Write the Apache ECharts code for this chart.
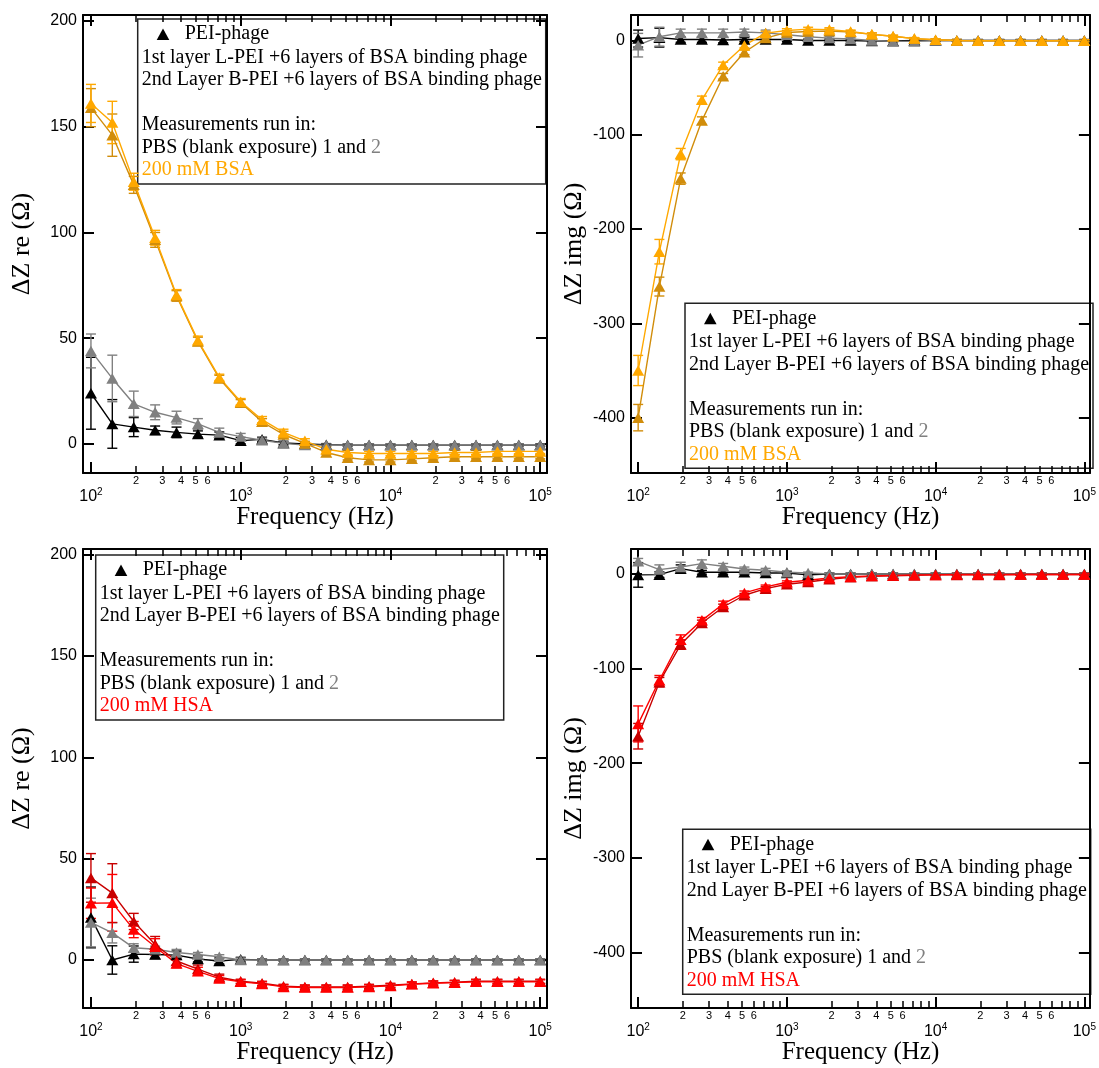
<!DOCTYPE html>
<html>
<head>
<meta charset="utf-8">
<script src="https://cdn.jsdelivr.net/npm/echarts@6/dist/echarts.min.js"></script>
<style>
  html, body { margin: 0; padding: 0; background: #fff; }
  #chart { width: 1099px; height: 1068px; }
</style>
</head>
<body>
<div id="chart"></div>
<script>
// Measurement frequencies (Hz), 7 points per decade
const freqHz = [100, 138.9, 193.1, 268.3, 372.8, 517.9, 719.7, 1000, 1389, 1931, 2683,
  3728, 5179, 7197, 10000, 13895, 19307, 26827, 37276, 51795, 71969, 100000];

// Axis tick values
const majorFreqTicks = [100, 1000, 10000, 100000];
const minorFreqTicks = [200, 300, 400, 500, 600, 700, 800, 900, 2000, 3000, 4000, 5000, 6000, 7000, 8000, 9000,
  20000, 30000, 40000, 50000, 60000, 70000, 80000, 90000];
const minorFreqLabels = [200, 300, 400, 500, 600, 2000, 3000, 4000, 5000, 6000, 20000, 30000, 40000, 50000, 60000];
const reTicks = [0, 50, 100, 150, 200];
const imgTicks = [-400, -300, -200, -100, 0];

// ---- BSA, real part ----
const reBsaPbs1 = [24, 9.5, 8, 6.5, 5.5, 4.7, 4.2, 1.6, 2.2, 0.5, 0, -0.3, -0.5, -0.5, -0.5, -0.5, -0.5, -0.5, -0.5, -0.5, -0.5, -0.5];
const reBsaPbs1Err = [17, 11.5, 4.5, 2, 2.5, 1.5, 1.5, 1.5, 1, 0.8, 0.5, 0.5, 0.5, 0.5, 0.5, 0.5, 0.5, 0.5, 0.5, 0.5, 0.5, 0.5];
const reBsaPbs2 = [44, 31, 19, 15, 12.5, 9.5, 5.5, 3.5, 1.8, 0.3, -0.5, -0.5, -0.5, -0.5, -0.5, -0.5, -0.5, -0.5, -0.5, -0.5, -0.5, -0.5];
const reBsaPbs2Err = [8, 11, 6, 3.5, 3, 2.5, 2, 1.5, 1, 1, 0.5, 0.5, 0.5, 0.5, 0.5, 0.5, 0.5, 0.5, 0.5, 0.5, 0.5, 0.5];
const reBsaLayer1 = [159, 146, 122.5, 96.5, 70, 48.5, 31, 19.5, 10.5, 4.5, 0.3, -4, -6.5, -7.5, -7.5, -7, -6.5, -6, -6, -6, -6, -6];
const reBsaLayer1Err = [9, 10, 4, 3.5, 2.5, 2, 1.5, 1.5, 1.5, 1.5, 1, 1, 1, 1, 1, 1, 1, 1, 1, 1, 1, 1];
const reBsaLayer2 = [161, 152, 124, 97.5, 70.5, 49, 31.5, 20, 11.5, 5.5, 1.5, -2.5, -4, -4.5, -4.5, -4.5, -4.5, -4, -4, -3.5, -3.5, -3.5];
const reBsaLayer2Err = [9, 10, 4, 3.5, 2.5, 2, 1.5, 1.5, 1.5, 1.5, 1, 1, 1, 1, 1, 1, 1, 1, 1, 1, 1, 1];

// ---- BSA, imaginary part ----
const imBsaPbs1 = [2, 3, 1, 1, 0.5, 1, 1, 1, 0, 0, 0, -0.5, -0.5, 0, 0, 0, 0, 0, 0, 0, 0, 0];
const imBsaPbs1Err = [9, 10, 3, 3, 3, 2, 2, 2, 1.5, 1.5, 1, 1, 1, 1, 1, 1, 1, 1, 1, 1, 1, 1];
const imBsaPbs2 = [-5, 4, 8, 8, 8, 9, 8, 6, 4, 2.5, 1.5, 0, -1, -1, 0, 0, 0, 0, 0, 0, 0, 0];
const imBsaPbs2Err = [12.5, 10, 4, 4, 4, 3, 3, 2, 2, 1.5, 1.5, 1, 1, 1, 1, 1, 1, 1, 1, 1, 1, 1];
const imBsaLayer1 = [-400, -261, -146.5, -85, -38, -12.5, 2.5, 8.5, 9.5, 10, 9, 6.5, 4.5, 2, 0.7, 0, -0.3, -0.3, -0.3, -0.3, -0.3, -0.3];
const imBsaLayer1Err = [14, 10, 6, 4, 3, 2.5, 2, 2, 2, 2, 1.5, 1.5, 1, 1, 1, 1, 1, 1, 1, 1, 1, 1];
const imBsaLayer2 = [-350, -224, -120.5, -63, -26, -5.3, 7.8, 10.5, 12, 11.5, 9.5, 6.5, 4.5, 2, 0.7, 0, -0.3, -0.3, -0.3, -0.3, -0.3, -0.3];
const imBsaLayer2Err = [16, 13, 6, 4, 3, 2.5, 2, 2, 2, 2, 1.5, 1.5, 1, 1, 1, 1, 1, 1, 1, 1, 1, 1];

// ---- HSA, real part ----
const reHsaPbs1 = [21, 0, 2.9, 2.7, 2.4, 0.5, -0.5, 0.3, 0, 0, 0, 0, 0, 0, 0, 0, 0, 0, 0, 0, 0, 0];
const reHsaPbs1Err = [15, 7, 4, 2, 2, 1.5, 1.5, 1, 0.5, 0.5, 0.5, 0.5, 0.5, 0.5, 0.5, 0.5, 0.5, 0.5, 0.5, 0.5, 0.5, 0.5];
const reHsaPbs2 = [18.5, 13.4, 6, 5.3, 3.7, 2.7, 1.6, 0, 0, 0, 0, 0, 0, 0, 0, 0, 0, 0, 0, 0, 0, 0];
const reHsaPbs2Err = [12, 5, 2, 1.5, 1.5, 1, 1, 1, 0.5, 0.5, 0.5, 0.5, 0.5, 0.5, 0.5, 0.5, 0.5, 0.5, 0.5, 0.5, 0.5, 0.5];
const reHsaLayer1 = [40.5, 33, 19, 7.6, -0.5, -4.5, -8.5, -10.5, -11.5, -13, -13.3, -13.3, -13.3, -13, -12.5, -11.8, -11.3, -11, -10.5, -10.5, -10.5, -10.5];
const reHsaLayer1Err = [12, 14.5, 4, 4, 2, 2, 1.5, 1, 1, 1, 1, 1, 1, 1, 1, 1, 1, 1, 1, 1, 1, 1];
const reHsaLayer2 = [28, 28.2, 15, 6.5, -1.8, -5.6, -9.2, -10.8, -11.8, -13.3, -13.6, -13.6, -13.6, -13.3, -12.8, -12, -11.5, -11.2, -10.8, -10.8, -10.8, -10.8];
const reHsaLayer2Err = [7.5, 14, 4, 4, 2, 2, 1.5, 1, 1, 1, 1, 1, 1, 1, 1, 1, 1, 1, 1, 1, 1, 1];

// ---- HSA, imaginary part ----
const imHsaPbs1 = [-1, -0.7, 5.6, 1.8, 1.8, 1.8, 1, 1, -1, 0, 0, 0, 0, 0, 0, 0, 0, 0, 0, 0, 0, 0];
const imHsaPbs1Err = [13, 3, 4, 2, 2, 2, 1.5, 1.5, 1, 1, 1, 1, 1, 1, 1, 1, 1, 1, 1, 1, 1, 1];
const imHsaPbs2 = [13.4, 4.6, 7.4, 10.9, 8.1, 5.3, 3.9, 1.8, 1, 0, 0, 0, 0, 0, 0, 0, 0, 0, 0, 0, 0, 0];
const imHsaPbs2Err = [3, 5, 5, 4, 3, 2, 2, 1.5, 1, 1, 1, 1, 1, 1, 1, 1, 1, 1, 1, 1, 1, 1];
const imHsaLayer1 = [-171.5, -114.4, -74.6, -51.8, -34.9, -22.5, -15.5, -10.9, -8.5, -5.6, -3.5, -2.5, -2, -1.5, -1, -1, -1, -1, -0.5, -0.5, -0.5, -0.5];
const imHsaLayer1Err = [13.5, 5, 5, 3, 3, 2, 2, 1.5, 1.5, 1, 1, 1, 1, 1, 1, 1, 1, 1, 1, 1, 1, 1];
const imHsaLayer2 = [-158.5, -112.3, -69.4, -49, -31.7, -20, -13.7, -8.8, -6.7, -4.2, -3, -2, -1.5, -1, -1, -0.5, -0.5, -0.5, -0.5, -0.5, -0.5, -0.5];
const imHsaLayer2Err = [19, 5, 5, 3, 3, 2, 2, 1.5, 1.5, 1, 1, 1, 1, 1, 1, 1, 1, 1, 1, 1, 1, 1];

const SANS = 'Liberation Sans';
const SERIF = 'Liberation Serif';
const C_PBS1 = '#000000';
const C_PBS2 = '#808080';
const C_BSA1 = '#D18D0B';
const C_BSA2 = '#FFA800';
const C_HSA1 = '#C80000';
const C_HSA2 = '#FF0000';

const panels = [
  { grid: { left: 83, top: 15, width: 464, height: 458 }, xMin: 88.5, xMax: 111000,
    yMin: -13.7, yMax: 202.8, yTicks: reTicks, yName: 'ΔZ re (Ω)', yNameGap: 48,
    series: [[reBsaPbs1, reBsaPbs1Err, C_PBS1], [reBsaPbs2, reBsaPbs2Err, C_PBS2],
             [reBsaLayer1, reBsaLayer1Err, C_BSA1], [reBsaLayer2, reBsaLayer2Err, C_BSA2]] },
  { grid: { left: 631, top: 15, width: 462, height: 458 }, xMin: 89.5, xMax: 109000,
    yMin: -458.7, yMax: 27, yTicks: imgTicks, yName: 'ΔZ img (Ω)', yNameGap: 44,
    series: [[imBsaPbs1, imBsaPbs1Err, C_PBS1], [imBsaPbs2, imBsaPbs2Err, C_PBS2],
             [imBsaLayer1, imBsaLayer1Err, C_BSA1], [imBsaLayer2, imBsaLayer2Err, C_BSA2]] },
  { grid: { left: 83, top: 549, width: 464, height: 459 }, xMin: 88.5, xMax: 111000,
    yMin: -23.7, yMax: 202.8, yTicks: reTicks, yName: 'ΔZ re (Ω)', yNameGap: 48,
    series: [[reHsaPbs1, reHsaPbs1Err, C_PBS1], [reHsaPbs2, reHsaPbs2Err, C_PBS2],
             [reHsaLayer1, reHsaLayer1Err, C_HSA1], [reHsaLayer2, reHsaLayer2Err, C_HSA2]] },
  { grid: { left: 631, top: 549, width: 462, height: 459 }, xMin: 89.5, xMax: 109000,
    yMin: -458.8, yMax: 26.4, yTicks: imgTicks, yName: 'ΔZ img (Ω)', yNameGap: 44,
    series: [[imHsaPbs1, imHsaPbs1Err, C_PBS1], [imHsaPbs2, imHsaPbs2Err, C_PBS2],
             [imHsaLayer1, imHsaLayer1Err, C_HSA1], [imHsaLayer2, imHsaLayer2Err, C_HSA2]] }
];

function decadeExp(v) { return Math.round(Math.log10(v)); }
function leadDigit(v) { return String(Math.round(v / Math.pow(10, Math.floor(Math.log10(v) + 1e-9)))); }

const grids = [], xAxes = [], yAxes = [], seriesList = [];

panels.forEach((p, gi) => {
  grids.push(Object.assign({ containLabel: false }, p.grid));
  const base = {
    type: 'log', gridIndex: gi, min: p.xMin, max: p.xMax,
    splitLine: { show: false }, minorTick: { show: false }, minorSplitLine: { show: false }
  };
  const lineOn = { show: true, onZero: false, lineStyle: { color: '#000', width: 2 } };
  const lineOff = { show: false, onZero: false };
  // bottom: decade ticks + 10^n labels
  xAxes.push(Object.assign({}, base, {
    position: 'bottom', axisLine: lineOn,
    name: 'Frequency (Hz)', nameLocation: 'middle', nameGap: 29,
    nameTextStyle: { fontFamily: SERIF, fontSize: 25, color: '#000' },
    axisTick: { show: true, inside: true, length: 11, lineStyle: { color: '#000', width: 2 }, customValues: majorFreqTicks },
    axisLabel: {
      show: true, customValues: majorFreqTicks, margin: 14, color: '#000',
      formatter: v => '{b|10}{s|' + decadeExp(v) + '}',
      rich: {
        b: { fontFamily: SANS, fontSize: 16, color: '#000' },
        s: { fontFamily: SANS, fontSize: 10, color: '#000', padding: [0, 0, 9, 0] }
      }
    }
  }));
  // bottom: intermediate ticks + 2..6 labels
  xAxes.push(Object.assign({}, base, {
    position: 'bottom', axisLine: lineOff,
    axisTick: { show: true, inside: true, length: 7, lineStyle: { color: '#000', width: 1.5 }, customValues: minorFreqTicks },
    axisLabel: { show: true, customValues: minorFreqLabels, margin: 2, fontFamily: SANS, fontSize: 11, color: '#000', formatter: leadDigit }
  }));
  // top mirror
  xAxes.push(Object.assign({}, base, {
    position: 'top', axisLine: lineOn,
    axisTick: { show: true, inside: true, length: 11, lineStyle: { color: '#000', width: 2 }, customValues: majorFreqTicks },
    axisLabel: { show: false }
  }));
  xAxes.push(Object.assign({}, base, {
    position: 'top', axisLine: lineOff,
    axisTick: { show: true, inside: true, length: 7, lineStyle: { color: '#000', width: 1.5 }, customValues: minorFreqTicks },
    axisLabel: { show: false }
  }));

  yAxes.push({
    type: 'value', gridIndex: gi, position: 'left', min: p.yMin, max: p.yMax,
    splitLine: { show: false },
    axisLine: { show: true, onZero: false, lineStyle: { color: '#000', width: 2 } },
    axisTick: { show: true, inside: true, length: 11, lineStyle: { color: '#000', width: 2 }, customValues: p.yTicks },
    axisLabel: { show: true, customValues: p.yTicks, fontFamily: SANS, fontSize: 16, color: '#000', margin: 6 },
    name: p.yName, nameLocation: 'middle', nameGap: p.yNameGap, nameRotate: 90,
    nameTextStyle: { fontFamily: SERIF, fontSize: 26, color: '#000' }
  });
  yAxes.push({
    type: 'value', gridIndex: gi, position: 'right', min: p.yMin, max: p.yMax,
    splitLine: { show: false },
    axisLine: { show: true, onZero: false, lineStyle: { color: '#000', width: 2 } },
    axisTick: { show: true, inside: true, length: 11, lineStyle: { color: '#000', width: 2 }, customValues: p.yTicks },
    axisLabel: { show: false }
  });

  p.series.forEach(([vals, errs, color]) => {
    seriesList.push({
      type: 'custom', xAxisIndex: gi * 4, yAxisIndex: gi * 2, silent: true, clip: true,
      encode: { x: 0, y: [1, 2] },
      data: freqHz.map((f, i) => [f, vals[i] - errs[i], vals[i] + errs[i]]),
      renderItem: (params, api) => {
        const f = api.value(0);
        const top = api.coord([f, api.value(2)]);
        const bot = api.coord([f, api.value(1)]);
        const w = 5;
        const st = { stroke: color, lineWidth: 1.4 };
        return {
          type: 'group', children: [
            { type: 'line', shape: { x1: top[0], y1: top[1], x2: bot[0], y2: bot[1] }, style: st },
            { type: 'line', shape: { x1: top[0] - w, y1: top[1], x2: top[0] + w, y2: top[1] }, style: st },
            { type: 'line', shape: { x1: bot[0] - w, y1: bot[1], x2: bot[0] + w, y2: bot[1] }, style: st }
          ]
        };
      }
    });
    seriesList.push({
      type: 'line', xAxisIndex: gi * 4, yAxisIndex: gi * 2, silent: true,
      data: freqHz.map((f, i) => [f, vals[i]]),
      symbol: 'triangle', symbolSize: [12, 10.5], showSymbol: true,
      lineStyle: { color: color, width: 1.4 },
      itemStyle: { color: color }
    });
  });
});

// Annotation boxes with the sample description
function noteBox(x, y, analyte, analyteColor) {
  const font = { fontFamily: SERIF, fontSize: 20 };
  const line = (ty, text, extra) => Object.assign({
    type: 'text', x: 4, y: ty,
    style: Object.assign({ text: text, fill: '#000', verticalAlign: 'middle', align: 'left' }, font, extra || {})
  });
  return {
    type: 'group', x: x, y: y, silent: true, z: 100,
    children: [
      { type: 'rect', shape: { x: 0, y: 0, width: 408, height: 165 }, style: { fill: '#fff', stroke: '#222', lineWidth: 1.5 } },
      { type: 'polygon', shape: { points: [[19, 21], [31.6, 21], [25.3, 9.5]] }, style: { fill: '#000' } },
      { type: 'text', x: 47, y: 15, style: Object.assign({ text: 'PEI-phage', fill: '#000', verticalAlign: 'middle' }, font) },
      line(38.6, '1st layer L-PEI +6 layers of BSA binding phage'),
      line(61, '2nd Layer B-PEI +6 layers of BSA binding phage'),
      line(106, 'Measurements run in:'),
      line(128.4, '{k|PBS (blank exposure) 1 and }{g|2}', {
        rich: { k: Object.assign({ fill: '#000' }, font), g: Object.assign({ fill: C_PBS2 }, font) }
      }),
      line(151, analyte, { fill: analyteColor })
    ]
  };
}

const chart = echarts.init(document.getElementById('chart'), null, { renderer: 'canvas' });
chart.setOption({
  animation: false,
  backgroundColor: '#fff',
  grid: grids,
  xAxis: xAxes,
  yAxis: yAxes,
  series: seriesList,
  graphic: [
    noteBox(137.7, 19, '200 mM BSA', C_BSA2),
    noteBox(685, 303.3, '200 mM BSA', C_BSA2),
    noteBox(95.7, 555, '200 mM HSA', C_HSA2),
    noteBox(682.7, 829.3, '200 mM HSA', C_HSA2)
  ]
});
</script>
</body>
</html>
